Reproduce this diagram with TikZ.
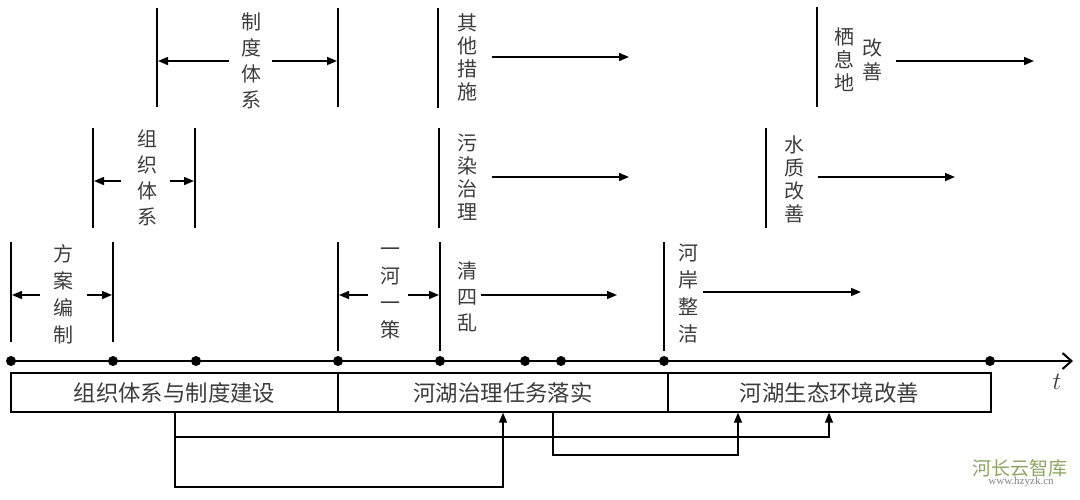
\documentclass[tikz,border=0pt]{standalone}
\usepackage{fontspec}
\setmainfont{Noto Sans CJK SC}
\newfontfamily\wmserif{Liberation Serif}
\usetikzlibrary{arrows.meta}
\definecolor{txtc}{RGB}{60,60,60}
\definecolor{wmg}{RGB}{140,165,95}
\begin{document}
\begin{tikzpicture}[x=1pt,y=-1pt,
  vt/.style={text=txtc,inner sep=0pt,align=center,font=\fontsize{20}{#1}\selectfont},
  vt/.default=26,
  bar/.style={line width=1.6pt,black},
  arr/.style={line width=1.5pt,-{Triangle[length=10pt,width=8pt]}},
  box/.style={draw,line width=1.3pt,minimum height=39pt,inner sep=0pt,text=txtc,font=\fontsize{22.4}{22.4}\selectfont},
  conn/.style={line width=1.3pt,-{Triangle[length=10pt,width=8pt]}},
  dot/.style={fill=black}]
\useasboundingbox (0,0) rectangle (1080,499);
% ---------- time axis ----------
\draw[line width=2.6pt,-{Straight Barb[length=9pt,width=16pt,line width=2pt]}] (11,361) -- (1073,361);
\foreach \x in {11,113,196,338,440,525,561,664,990}
  \fill[dot] (\x,361) circle[radius=5pt];
\node[inner sep=0pt,text=txtc,font=\fontsize{26}{26}\selectfont] (tl) at (1057,382) {$t$};
% ---------- stage boxes ----------
\node[box,minimum width=327pt] (b1) at (174.5,392.5) {组织体系与制度建设};
\node[box,minimum width=330pt] (b2) at (503,392.5) {河湖治理任务落实};
\node[box,minimum width=323pt] (b3) at (829.5,392.5) {河湖生态环境改善};
% ---------- connectors between stages ----------
\coordinate (xa) at (175,0);
\coordinate (xb) at (503,0);
\coordinate (xc) at (553,0);
\coordinate (xd) at (738,0);
\coordinate (xe) at (829,0);
\coordinate (ya) at (0,437);
\coordinate (yb) at (0,455);
\coordinate (yc) at (0,487);
\draw[conn] (b1.south -| xa) -- (xa |- ya) -- (xe |- ya) -- (b3.south -| xe);
\draw[conn] (b1.south -| xa) -- (xa |- yc) -- (xb |- yc) -- (b2.south -| xb);
\draw[conn] (b2.south -| xc) -- (xc |- yb) -- (xd |- yb) -- (b3.south -| xd);
% ---------- row 1 ----------
\draw[bar] (11,242) -- (11,342);
\draw[bar] (113,242) -- (113,342);
\draw[arr] (40,295) -- (12,295);
\draw[arr] (87,295) -- (112,295);
\node[vt=27] (fa) at (63,294) {方\\案\\编\\制};
\draw[bar] (338,242) -- (338,351);
\draw[bar] (440,242) -- (440,351);
\draw[arr] (368,295) -- (339,295);
\draw[arr] (408,295) -- (439,295);
\node[vt=27] (yh) at (390,293) {一\\河\\一\\策};
\node[vt=26] (qs) at (467,297) {清\\四\\乱};
\draw[arr] (481,295) -- (617,295);
\draw[bar] (664,242) -- (664,351);
\node[vt=27] (ha) at (688,294) {河\\岸\\整\\洁};
\draw[arr] (703,292) -- (861,292);
% ---------- row 2 ----------
\draw[bar] (93,128) -- (93,228);
\draw[bar] (195,128) -- (195,228);
\draw[arr] (121,181) -- (94,181);
\draw[arr] (170,181) -- (194,181);
\node[vt=26] (zz) at (147,178) {组\\织\\体\\系};
\draw[bar] (439,128) -- (439,228);
\node[vt=23] (wr) at (467,177) {污\\染\\治\\理};
\draw[arr] (492,177) -- (629,177);
\draw[bar] (766,128) -- (766,228);
\node[vt=23] (sz) at (794,179) {水\\质\\改\\善};
\draw[arr] (818,177) -- (955,177);
% ---------- row 3 ----------
\draw[bar] (157,8) -- (157,107);
\draw[bar] (338,8) -- (338,107);
\draw[arr] (229,61) -- (158,61);
\draw[arr] (272,61) -- (337,61);
\node[vt=26] (zd) at (251,61) {制\\度\\体\\系};
\draw[bar] (438,8) -- (438,108);
\node[vt=23] (qt) at (467,57) {其\\他\\措\\施};
\draw[arr] (492,57) -- (629,57);
\draw[bar] (817,7) -- (817,107);
\node[vt=23] (qx) at (844,60) {栖\\息\\地};
\node[vt=24] (gs) at (872,60) {改\\善};
\draw[arr] (896,61) -- (1034,61);
% ---------- watermark ----------
\node[inner sep=0pt,text=wmg,font=\fontsize{19}{19}\selectfont] (wm1) at (1020,468) {河长云智库};
\node[inner sep=0pt,text=gray,font=\wmserif\fontsize{11}{11}\selectfont] (wm2) at (1021,482) {www.hzyzk.cn};
\end{tikzpicture}
\end{document}
